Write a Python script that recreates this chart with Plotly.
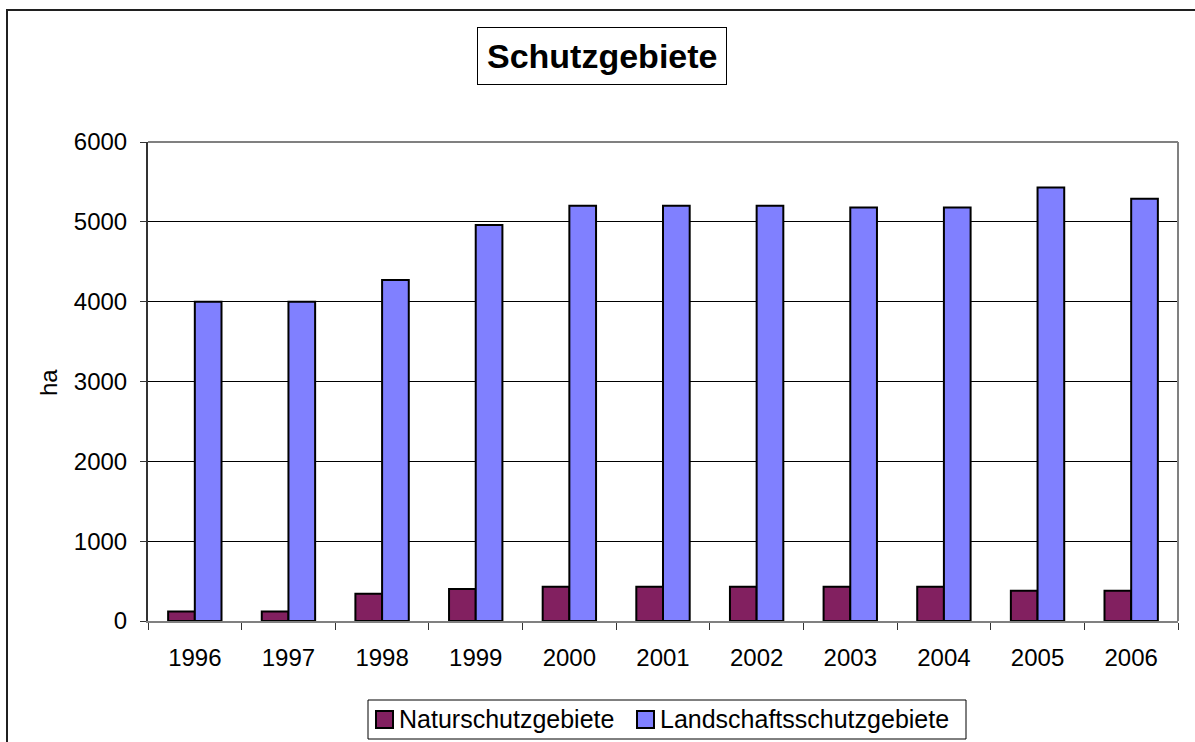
import plotly.graph_objects as go

years = ["1996", "1997", "1998", "1999", "2000", "2001", "2002", "2003", "2004", "2005", "2006"]
natur = [120, 120, 340, 400, 430, 430, 430, 430, 430, 380, 380]
landschaft = [4000, 4000, 4270, 4960, 5200, 5200, 5200, 5180, 5180, 5430, 5290]
y_ticks = [0, 1000, 2000, 3000, 4000, 5000, 6000]
series_names = ["Naturschutzgebiete", "Landschaftsschutzgebiete"]
series_colors = ["#822060", "#8080FF"]

W, H = 1195, 742
L, R, T, B = 148, 1178, 142, 621
pw, ph = R - L, B - T

def px(x):
    return (x - L) / pw

def py(y):
    return (B - y) / ph

font = "Arial, Liberation Sans, sans-serif"

fig = go.Figure()
for name, vals, col in zip(series_names, [natur, landschaft], series_colors):
    fig.add_trace(go.Bar(x=years, y=vals, name=name,
                         marker=dict(color=col, line=dict(color="black", width=2))))

shapes = [
    dict(type="line", xref="paper", yref="paper", x0=0, x1=1, y0=1, y1=1,
         line=dict(color="#808080", width=2)),
    dict(type="line", xref="paper", yref="paper", x0=1, x1=1, y0=0, y1=1,
         line=dict(color="#808080", width=2)),
    dict(type="rect", xref="paper", yref="paper",
         x0=px(7), x1=px(1210), y0=py(10), y1=py(760),
         line=dict(color="#202020", width=2)),
    # legend box
    dict(type="rect", xref="paper", yref="paper",
         x0=px(368), x1=px(966), y0=py(700), y1=py(739),
         line=dict(color="black", width=1), fillcolor="white"),
]
annotations = [
    dict(text="<b>Schutzgebiete</b>", xref="paper", yref="paper", x=px(602), y=py(56),
         xanchor="center", yanchor="middle", showarrow=False,
         font=dict(size=34, family=font), bordercolor="black", borderwidth=1,
         borderpad=9, bgcolor="white"),
    dict(text="ha", xref="paper", yref="paper", x=px(48), y=py(383),
         xanchor="center", yanchor="middle", showarrow=False, textangle=-90,
         font=dict(size=24, family=font)),
]
# custom legend entries
leg_sq_x = [376, 637]
for sx, name, col in zip(leg_sq_x, series_names, series_colors):
    shapes.append(dict(type="rect", xref="paper", yref="paper",
                       x0=px(sx), x1=px(sx + 17), y0=py(711), y1=py(728),
                       line=dict(color="black", width=2), fillcolor=col))
    annotations.append(dict(text=name, xref="paper", yref="paper", x=px(sx + 21), y=py(719),
                            xanchor="left", yanchor="middle", showarrow=False,
                            font=dict(size=25, family=font)))

fig.update_layout(
    width=W, height=H,
    margin=dict(l=L, r=W - R, t=T, b=H - B),
    paper_bgcolor="white", plot_bgcolor="white",
    barmode="group", bargap=0.43, bargroupgap=0,
    font=dict(family=font, size=24, color="black"),
    showlegend=False,
    xaxis=dict(type="category", showline=True, linecolor="#808080", linewidth=2,
               ticks="outside", ticklen=7, tickcolor="#333", tickson="boundaries",
               ticklabelstandoff=14, showgrid=False),
    yaxis=dict(range=[0, 6000], tickvals=y_ticks, showline=True, linecolor="#333",
               linewidth=2, ticks="outside", ticklen=6, tickcolor="#333",
               gridcolor="black", gridwidth=1, ticklabelstandoff=8, zeroline=False),
    shapes=shapes,
    annotations=annotations,
)

fig.write_html("out.html", post_script="document.body.style.margin='0';",
               config={"displayModeBar": False})
